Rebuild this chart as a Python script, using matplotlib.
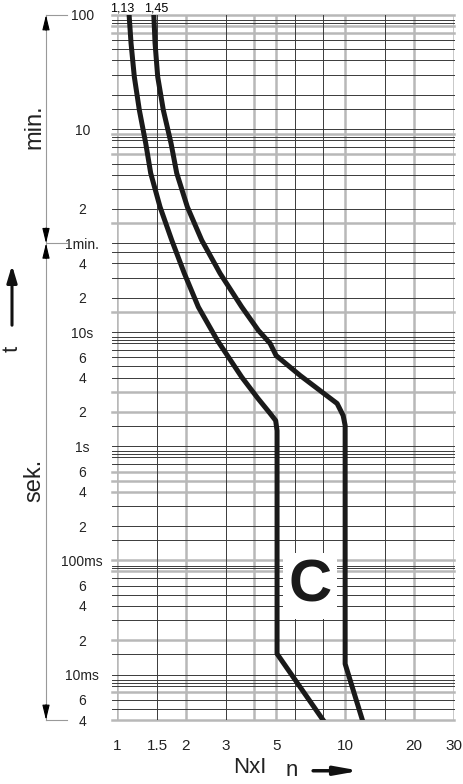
import numpy as np
import matplotlib
matplotlib.use('Agg')
import matplotlib.pyplot as plt

FONT = ['Liberation Sans Narrow', 'Liberation Sans', 'DejaVu Sans']
plt.rcParams['font.family'] = FONT

# Auslösekennlinie C: Vielfaches des Nennstroms (n) gegen Zeit in Sekunden
n_low = [1.13, 1.152, 1.191, 1.253, 1.336, 1.405, 1.544, 1.738, 1.973, 2.273, 2.754,
         3.523, 4.15, 4.69, 4.96, 5.03, 5.03, 8.0]
t_low = [6000, 3409, 1726, 881, 452, 247, 125, 63.8, 32.7, 16.6, 8.46,
         4.03, 2.62, 1.94, 1.68, 1.37, 0.0152, 0.0040]

n_high = [1.45, 1.468, 1.508, 1.596, 1.725, 1.827, 2.034, 2.352, 2.83, 3.523, 4.166,
          4.69, 4.98, 6.35, 9.22, 9.8, 10.0, 10.0, 11.9]
t_high = [6000, 3409, 1726, 881, 452, 247, 125, 63.8, 32.7, 16.6, 10.35,
          7.96, 6.24, 4.17, 2.37, 1.86, 1.52, 0.0124, 0.0040]

# Achsenbeschriftung
x_ticks = [1, 1.5, 2, 3, 5, 10, 20, 30]
x_labels = ['1', '1.5', '2', '3', '5', '10', '20', '30']
y_ticks = [6000, 600, 120, 60, 40, 20, 10, 6, 4, 2, 1, 0.6, 0.4, 0.2, 0.1,
           0.06, 0.04, 0.02, 0.01, 0.006, 0.004]
y_labels = ['100', '10', '2', '1min.', '4', '2', '10s', '6', '4', '2', '1s',
            '6', '4', '2', '100ms', '6', '4', '2', '10ms', '6', '4']

# Gitterlinien
mult = [1, 1.5, 2, 3, 4, 5, 6, 7, 8, 8.5, 9]
sek_lines = [m * 10.0**k for k in range(-3, 2) for m in mult]
sek_lines = [v for v in sek_lines if 0.004 <= v < 60]
min_lines = [m * 10.0**k * 60 for k in range(0, 3) for m in mult]
min_lines = [v for v in min_lines if v <= 6000]
h_lines = sek_lines + min_lines
h_grau = [6000, 4800, 4200, 540, 360, 90, 15, 3, 2, 0.6, 0.5, 0.4, 0.1, 0.08, 0.02, 0.007, 0.004]
v_lines = [1, 1.5, 2, 3, 4, 5, 6, 8, 10, 15, 20, 30]
v_grau = [1, 2, 4, 5, 10, 20, 30]

GRAU = '#b8b8b8'
DUNKEL = '#3a3a3a'

fig = plt.figure(figsize=(4.64, 7.84), dpi=100)
ax = fig.add_axes([117/464, 64/784, 337/464, 705/784])
ax.set_xscale('log')
ax.set_yscale('log')
ax.set_xlim(1, 30)
ax.set_ylim(0.004, 6000)
for s in ax.spines.values():
    s.set_visible(False)

for y in h_lines:
    if np.any(np.isclose(y, h_grau, rtol=1e-3)):
        ax.axhline(y, xmin=-5/337, xmax=1, color=GRAU, lw=1.8, clip_on=False, zorder=1)
    else:
        ax.axhline(y, xmin=-5/337, xmax=1, color=DUNKEL, lw=0.7, clip_on=False, zorder=1.1)
for x in v_lines:
    if x in v_grau:
        ax.axvline(x, color=GRAU, lw=1.8, zorder=1)
    else:
        ax.axvline(x, color=DUNKEL, lw=0.7, zorder=1.1)

ax.plot(n_low, t_low, color='#1a1a1a', lw=3.6, solid_joinstyle='round', zorder=5)
ax.plot(n_high, t_high, color='#1a1a1a', lw=3.6, solid_joinstyle='round', zorder=5)

ax.set_xticks(x_ticks)
ax.set_xticklabels(x_labels)
ax.xaxis.set_minor_locator(matplotlib.ticker.NullLocator())
ax.set_yticks(y_ticks)
ax.set_yticklabels(y_labels)
ax.yaxis.set_minor_locator(matplotlib.ticker.NullLocator())
ax.tick_params(axis='x', length=0, pad=14, labelsize=11, colors='#222222')
ax.tick_params(axis='y', length=0, pad=25, labelsize=10, colors='#222222')
for lab in ax.get_yticklabels():
    lab.set_ha('center')

# Kennbuchstabe
ax.text(7.0, 0.06, 'C', fontsize=43, fontweight='bold', ha='center', va='center',
        color='#1a1a1a', zorder=4,
        bbox=dict(facecolor='white', edgecolor='none', pad=4))

# Startwerte oben
ax.annotate('1,13', xy=(1.13, 6000), xytext=(-5, 2.5), textcoords='offset points',
            ha='center', va='baseline', fontsize=9, annotation_clip=False)
ax.annotate('1,45', xy=(1.45, 6000), xytext=(2, 2.5), textcoords='offset points',
            ha='center', va='baseline', fontsize=9, annotation_clip=False)

# linke Bemaßung min./sek.
tr = ax.get_yaxis_transform()
xa = (46 - 117) / 337
xb = (67 - 117) / 337
ax.plot([xa, xa], [6000, 0.004], color='#999999', lw=0.8, transform=tr, clip_on=False)
for y in [6000, 60, 0.004]:
    ax.plot([xa, xb], [y, y], color='#999999', lw=0.8, transform=tr, clip_on=False)
kopf = dict(arrowstyle='-|>,head_length=0.9,head_width=0.22', color='black', lw=0.8,
            shrinkA=0, shrinkB=0)
for y, dy in [(6000, -11), (60, 11), (60, -11), (0.004, 11)]:
    ax.annotate('', xy=(xa, y), xycoords=tr, xytext=(0, dy), textcoords='offset points',
                arrowprops=kopf, annotation_clip=False)
ax.text((34 - 117) / 337, 0.841, 'min.', transform=ax.transAxes, rotation=90,
        ha='center', va='center', fontsize=17, color='#222222')
ax.text((34 - 117) / 337, 0.340, 'sek.', transform=ax.transAxes, rotation=90,
        ha='center', va='center', fontsize=17, color='#222222')

# t-Pfeil
xt = (12 - 117) / 337
ax.annotate('', xy=(xt, 0.645), xycoords='axes fraction', xytext=(xt, 0.560),
            arrowprops=dict(arrowstyle='-|>,head_length=1.0,head_width=0.3', color='#111111',
                            lw=2.2, shrinkA=0, shrinkB=0), annotation_clip=False)
ax.text(xt, 0.527, 't', transform=ax.transAxes, rotation=90, ha='center', va='center',
        fontsize=16, color='#222222')

# n-Pfeil
ax.text((250 - 117) / 337, -0.0667, 'NxI', transform=ax.transAxes, ha='center', va='center',
        fontsize=16, color='#222222')
ax.text((292 - 117) / 337, -0.071, 'n', transform=ax.transAxes, ha='center', va='center',
        fontsize=16, color='#222222')
ax.annotate('', xy=(0.721, -0.072), xycoords='axes fraction', xytext=(0.582, -0.072),
            arrowprops=dict(arrowstyle='-|>,head_length=1.4,head_width=0.25', color='#111111',
                            lw=2.5, shrinkA=0, shrinkB=0), annotation_clip=False)

fig.savefig('out.png', dpi=100, facecolor='white')
